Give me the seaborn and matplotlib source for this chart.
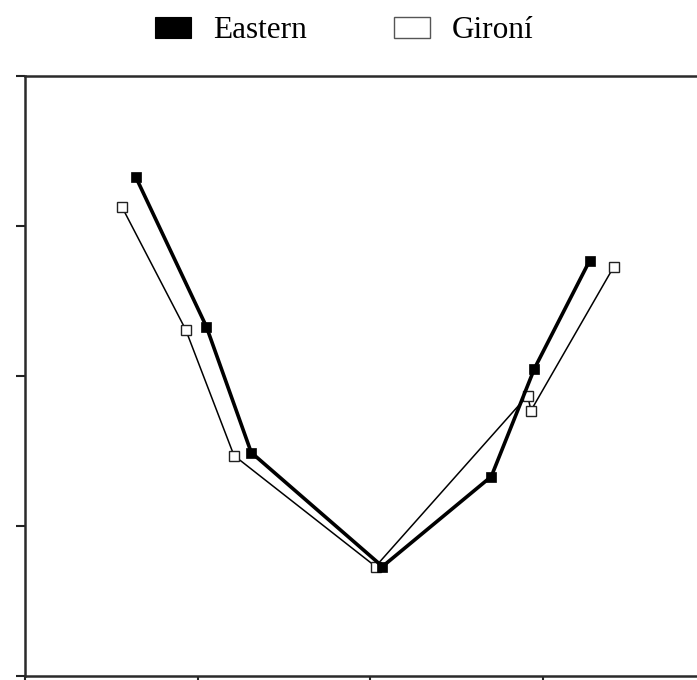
import matplotlib
matplotlib.use("Agg")
import matplotlib.pyplot as plt
from matplotlib.patches import Patch
import seaborn as sns
import pandas as pd

# Data (arbitrary axis units)
eastern_x = [0.64, 1.05, 1.31, 2.07, 2.70, 2.95, 3.27]
eastern_y = [3.33, 2.33, 1.49, 0.73, 1.33, 2.05, 2.77]
gironi_x = [0.56, 0.93, 1.21, 2.03, 2.91, 2.93, 3.41]
gironi_y = [3.13, 2.31, 1.47, 0.73, 1.87, 1.77, 2.73]
series_names = ["Eastern", "Gironí"]
x_ticks = [0, 1, 2, 3]
y_ticks = [0, 1, 2, 3, 4]

df_e = pd.DataFrame({"x": eastern_x, "y": eastern_y})
df_g = pd.DataFrame({"x": gironi_x, "y": gironi_y})

sns.set_theme(style="white")
plt.rcParams['font.family'] = ['Liberation Serif', 'DejaVu Serif']
plt.rcParams['text.color'] = 'black'

fig = plt.figure(figsize=(6.97, 6.80), dpi=100)
ax = fig.add_axes([25 / 697, 4 / 680, 4 * 172.7 / 697, 600 / 680])

sns.lineplot(data=df_g, x="x", y="y", sort=False, ax=ax, color="black",
             linewidth=1.1, marker="s", markersize=7.2,
             markerfacecolor="white", markeredgecolor="#222222",
             markeredgewidth=1.0, legend=False, zorder=2)
sns.lineplot(data=df_e, x="x", y="y", sort=False, ax=ax, color="black",
             linewidth=2.6, marker="s", markersize=7.8,
             markerfacecolor="black", markeredgecolor="black",
             markeredgewidth=0.5, legend=False, zorder=3)

ax.set_xlim(0, 4)
ax.set_ylim(0, 4)
ax.set_xticks(x_ticks)
ax.set_yticks(y_ticks)
ax.set_xticklabels([])
ax.set_yticklabels([])
ax.set_xlabel("")
ax.set_ylabel("")
ax.tick_params(axis="both", direction="out", length=6.5, width=1.5,
               color="#222222", left=True, bottom=True)
for side in ["left", "bottom", "top"]:
    ax.spines[side].set_visible(True)
    ax.spines[side].set_color("#2a2a2a")
    ax.spines[side].set_linewidth(1.8)
ax.spines["right"].set_visible(False)

handles = [Patch(facecolor="black", edgecolor="black", linewidth=0.8),
           Patch(facecolor="white", edgecolor="#555555", linewidth=1.0)]
leg = fig.legend(handles, series_names, loc="center", bbox_to_anchor=(0.494, 0.955),
                 ncol=2, frameon=False, fontsize=22.5, handlelength=1.15,
                 handleheight=0.67, handletextpad=0.7, columnspacing=2.8)
for t in leg.get_texts():
    t.set_color("black")

fig.savefig("out.png", dpi=100)
